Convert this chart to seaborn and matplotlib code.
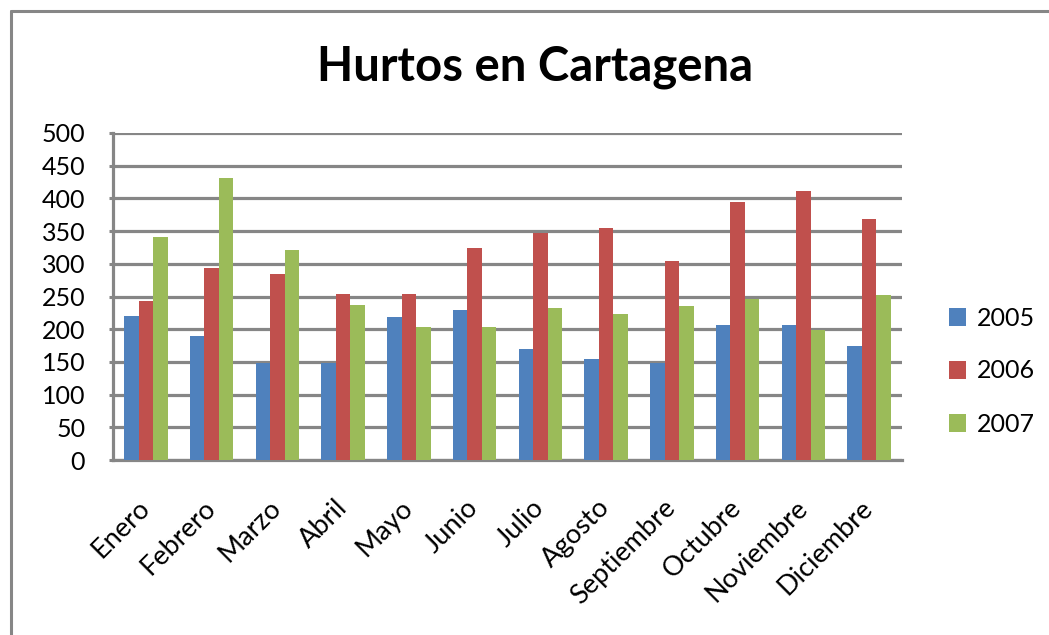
import numpy as np
import pandas as pd
import matplotlib
matplotlib.use("Agg")
from matplotlib import pyplot as plt
from matplotlib.lines import Line2D
from matplotlib.patches import Patch
import seaborn as sns

# data
meses = ["Enero", "Febrero", "Marzo", "Abril", "Mayo", "Junio", "Julio",
         "Agosto", "Septiembre", "Octubre", "Noviembre", "Diciembre"]
hurtos_2005 = [220, 190, 148, 148, 219, 230, 169, 155, 149, 206, 206, 175]
hurtos_2006 = [243, 294, 284, 254, 254, 324, 347, 354, 304, 395, 412, 368]
hurtos_2007 = [341, 431, 321, 237, 203, 203, 233, 223, 236, 246, 199, 253]
anios = ["2005", "2006", "2007"]
colores = ["#4F81BD", "#C0504D", "#9BBB59"]

df = pd.DataFrame({
    "mes": meses * 3,
    "anio": np.repeat(anios, len(meses)),
    "hurtos": hurtos_2005 + hurtos_2006 + hurtos_2007,
})

sns.set_style("white")
plt.rcParams["font.family"] = ["Lato", "DejaVu Sans"]
plt.rcParams["text.color"] = "black"
plt.rcParams["xtick.color"] = "black"
plt.rcParams["ytick.color"] = "black"

gris = "#868686"
W, H = 1049, 635
fig = plt.figure(figsize=(W / 100, H / 100), dpi=100)

# chart area border (only top and left visible in the reference)
fig.add_artist(Line2D([10.5 / W, 10.5 / W], [0, 1 - 10.5 / H], transform=fig.transFigure,
                      color=gris, lw=2.2))
fig.add_artist(Line2D([10.5 / W, 1], [1 - 10.5 / H, 1 - 10.5 / H], transform=fig.transFigure,
                      color=gris, lw=2.2))

ax = fig.add_axes([113 / W, (H - 460) / H, 789 / W, 327 / H])
sns.barplot(data=df, x="mes", y="hurtos", hue="anio", palette=colores, saturation=1,
            width=0.66, linewidth=0, ax=ax, legend=False, zorder=3)

ax.set_ylim(0, 500)
ax.set_yticks(range(0, 501, 50))
ax.set_xlim(-0.5, len(meses) - 0.5)
ax.yaxis.grid(True, color=gris, lw=2.3, zorder=0)
ax.set_axisbelow(True)
for s in ["top", "right"]:
    ax.spines[s].set_visible(False)
for s in ["left", "bottom"]:
    ax.spines[s].set_color(gris)
    ax.spines[s].set_linewidth(2.3)
ax.set_xlabel("")
ax.set_ylabel("")
ax.tick_params(axis="y", left=True, length=3, width=2.2, color=gris, labelcolor="black",
               pad=17, labelsize=18)
ax.tick_params(axis="x", bottom=False, pad=28, labelsize=19.5, labelcolor="black")
for lab in ax.get_xticklabels():
    lab.set_rotation(45)
    lab.set_ha("right")
    lab.set_va("center")
    lab.set_rotation_mode("anchor")

fig.text(535 / W, 1 - 67 / H, "Hurtos en Cartagena", ha="center", va="center",
         fontsize=34, fontweight="bold", color="black")

handles = [Patch(facecolor=c, edgecolor="none") for c in colores]
fig.legend(handles, anios, loc="center left", bbox_to_anchor=(926 / W, 1 - 371 / H),
           frameon=False, fontsize=18, handlelength=0.7, handleheight=0.7,
           handletextpad=0.45, labelspacing=1.2)

fig.savefig("out.png", dpi=100)
